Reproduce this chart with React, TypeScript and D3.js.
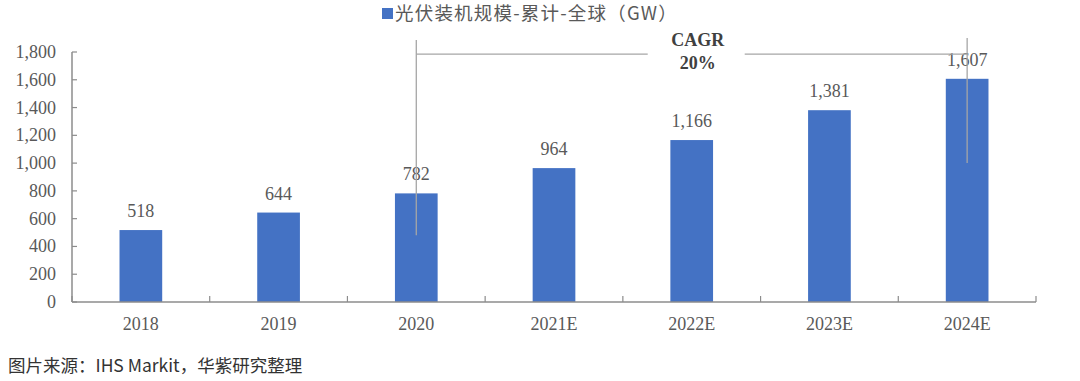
import React from "react";
import * as d3 from "d3";

const categories = ["2018", "2019", "2020", "2021E", "2022E", "2023E", "2024E"];
const values = [518, 644, 782, 964, 1166, 1381, 1607];
const yTicks = [0, 200, 400, 600, 800, 1000, 1200, 1400, 1600, 1800];
const legendLabel = "光伏装机规模-累计-全球（GW）";
const cagrLines = ["CAGR", "20%"];
const sourceText = "图片来源：IHS Markit，华紫研究整理";

export default function App() {
  const W = 1080, H = 381;
  const x0 = 72, x1 = 1036, yTop = 52, yBot = 302;
  const x = d3.scaleBand<string>().domain(categories).range([x0, x1]).paddingInner(0.69).paddingOuter(0.345);
  const y = d3.scaleLinear().domain([0, 1800]).range([yBot, yTop]);
  const bw = x.bandwidth();
  const step = x.step();
  const cx = (c: string) => (x(c) as number) + bw / 2;
  const fmt = d3.format(",");
  const serif = "'Liberation Serif', 'Times New Roman', serif";
  const sans = "'Noto Sans CJK SC', 'Noto Sans', sans-serif";
  const axisColor = "#8c8c8c";
  const lineColor = "#a6a6a6";
  const textColor = "#595959";

  const leftX = cx("2020");
  const rightX = cx("2024E");
  const hY = y(1785);
  const cagrX = cx("2022E") + 6;

  return (
    <svg width={W} height={H} style={{ position: "absolute", left: 0, top: 0, background: "#fff" }}>
      {/* legend */}
      <rect x={382} y={8} width={11} height={11} fill="#4472c4" />
      <text x={395} y={20} fontFamily={sans} fontSize={18.5} letterSpacing={1.2} fill={textColor}>{legendLabel}</text>

      {/* bars */}
      {categories.map((c, i) => (
        <rect key={c} x={x(c)} y={y(values[i])} width={bw} height={yBot - y(values[i])} fill="#4472c4" />
      ))}

      {/* y axis */}
      <line x1={x0} x2={x0} y1={yTop} y2={yBot} stroke={axisColor} strokeWidth={1.5} />
      {yTicks.map((t) => (
        <g key={t}>
          <line x1={x0} x2={x0 + 5} y1={y(t)} y2={y(t)} stroke={axisColor} strokeWidth={1.2} />
          <text x={56} y={y(t) + 6} textAnchor="end" fontFamily={serif} fontSize={18} fill={textColor}>{fmt(t)}</text>
        </g>
      ))}

      {/* x axis */}
      <line x1={x0} x2={x1} y1={yBot} y2={yBot} stroke={axisColor} strokeWidth={1.5} />
      {d3.range(categories.length + 1).map((i) => (
        <line key={i} x1={x0 + i * step} x2={x0 + i * step} y1={yBot} y2={yBot - 6} stroke={axisColor} strokeWidth={1.2} />
      ))}
      {categories.map((c) => (
        <text key={c} x={cx(c)} y={330} textAnchor="middle" fontFamily={serif} fontSize={18} fill={textColor}>{c}</text>
      ))}

      {/* value labels */}
      {categories.map((c, i) => (
        <text key={c} x={cx(c)} y={y(values[i]) - 13} textAnchor="middle" fontFamily={serif} fontSize={18} fill={textColor}>{fmt(values[i])}</text>
      ))}

      {/* CAGR annotation */}
      <line x1={leftX} x2={leftX} y1={40} y2={y(480)} stroke={lineColor} strokeWidth={1.3} />
      <line x1={leftX} x2={cagrX - 50} y1={hY} y2={hY} stroke={lineColor} strokeWidth={1.3} />
      <line x1={cagrX + 47} x2={rightX} y1={hY} y2={hY} stroke={lineColor} strokeWidth={1.3} />
      <line x1={rightX} x2={rightX} y1={38} y2={y(1000)} stroke={lineColor} strokeWidth={1.3} />
      <text x={cagrX} y={46} textAnchor="middle" fontFamily={serif} fontSize={18} fontWeight="bold" fill="#404040">{cagrLines[0]}</text>
      <text x={cagrX} y={69} textAnchor="middle" fontFamily={serif} fontSize={18} fontWeight="bold" fill="#404040">{cagrLines[1]}</text>

      {/* source */}
      <text x={8} y={372} fontFamily={sans} fontSize={17.5} fill="#333">{sourceText}</text>
    </svg>
  );
}
